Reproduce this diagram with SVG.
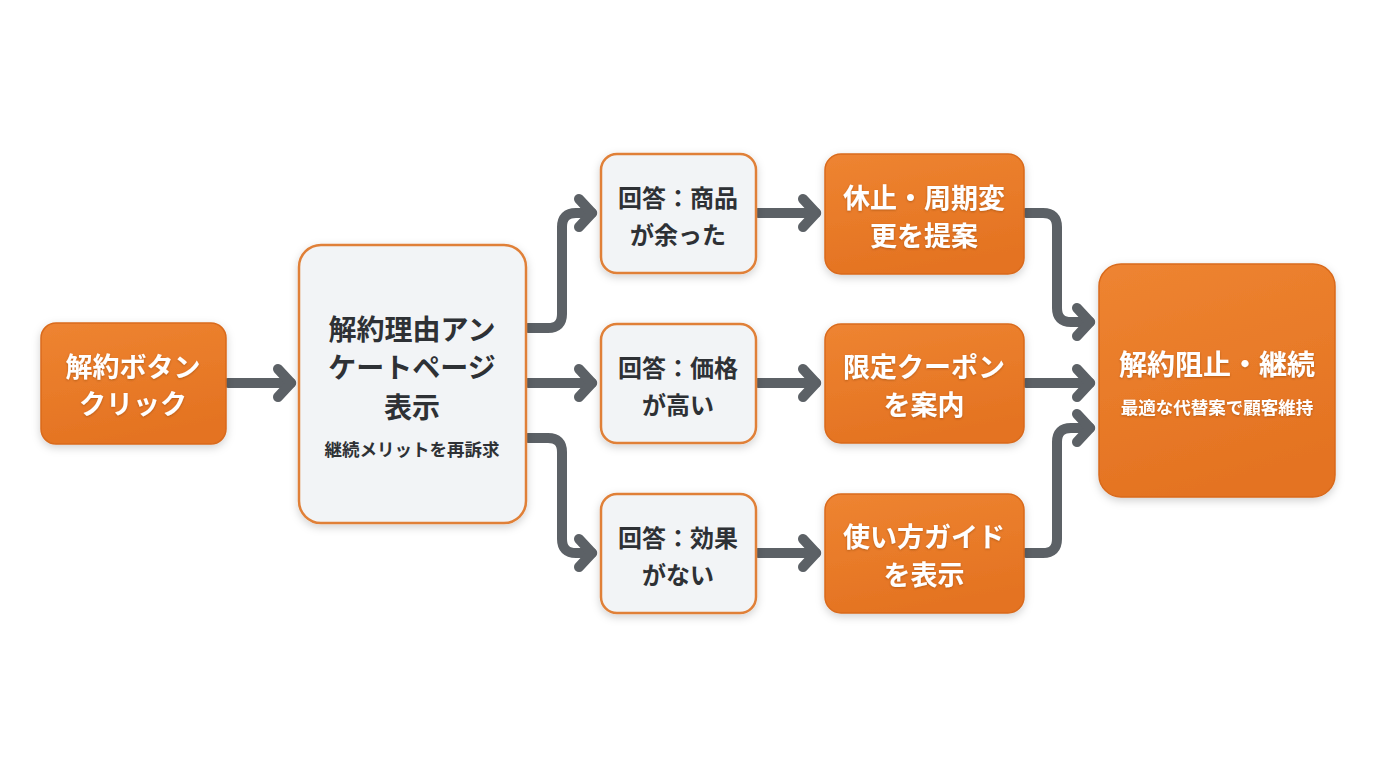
<svg xmlns="http://www.w3.org/2000/svg" width="1376" height="768" viewBox="0 0 1376 768">
<defs>
<linearGradient id="og" x1="0" y1="0" x2="0.3" y2="1">
<stop offset="0" stop-color="#EE8431"/>
<stop offset="1" stop-color="#E47322"/>
</linearGradient>
<filter id="sh" x="-20%" y="-20%" width="140%" height="150%">
<feDropShadow dx="0" dy="3" stdDeviation="4" flood-color="#000" flood-opacity="0.18"/>
</filter>
<filter id="ts" x="-10%" y="-20%" width="120%" height="150%">
<feDropShadow dx="0" dy="1" stdDeviation="1" flood-color="#7a3a0a" flood-opacity="0.45"/>
</filter>
<marker id="ah" markerUnits="userSpaceOnUse" markerWidth="40" markerHeight="40" viewBox="-30 -20 40 40" refX="0" refY="0" orient="auto">
<path d="M-13,-14 L0,0 L-13,14" fill="none" stroke="#5C6166" stroke-width="10" stroke-linecap="round" stroke-linejoin="round"/>
</marker>
</defs>
<style>
.or{fill:url(#og);stroke:#D96A1C;stroke-width:1.5;filter:url(#sh)}
.lt{fill:#F2F4F6;stroke:#E08038;stroke-width:2.5;filter:url(#sh)}
.wt{font-family:"Noto Sans CJK JP","Noto Sans",sans-serif;font-weight:700;fill:#FFFFFF;text-anchor:middle;filter:url(#ts)}
.dk{font-family:"Noto Sans CJK JP","Noto Sans",sans-serif;font-weight:700;fill:#2E3135;text-anchor:middle}
.cn{fill:none;stroke:#5C6166;stroke-width:10;stroke-linecap:round;stroke-linejoin:round}
</style>
<rect width="1376" height="768" fill="#FFFFFF"/>
<g id="connectors">
<path class="cn" d="M228,383 H291" marker-end="url(#ah)"/>
<path class="cn" d="M528,328 H548 Q562,328 562,314 V227 Q562,213 576,213 H592" marker-end="url(#ah)"/>
<path class="cn" d="M528,383 H592" marker-end="url(#ah)"/>
<path class="cn" d="M528,438 H548 Q562,438 562,452 V539 Q562,553 576,553 H592" marker-end="url(#ah)"/>
<path class="cn" d="M758,213 H816" marker-end="url(#ah)"/>
<path class="cn" d="M758,383 H816" marker-end="url(#ah)"/>
<path class="cn" d="M758,553 H816" marker-end="url(#ah)"/>
<path class="cn" d="M1026,213 H1043 Q1057,213 1057,227 V308 Q1057,322 1071,322 H1090" marker-end="url(#ah)"/>
<path class="cn" d="M1026,383 H1090" marker-end="url(#ah)"/>
<path class="cn" d="M1026,553 H1043 Q1057,553 1057,539 V442 Q1057,428 1071,428 H1090" marker-end="url(#ah)"/>
</g>
<g id="n1">
<rect class="or" x="41" y="323" width="185" height="121" rx="15"/>
<text class="wt" font-size="27" x="133" y="377">解約ボタン</text>
<text class="wt" font-size="27" x="133" y="414">クリック</text>
</g>
<g id="n2">
<rect class="lt" x="299" y="245" width="227" height="278" rx="22"/>
<text class="dk" font-size="28" x="412" y="340">解約理由アン</text>
<text class="dk" font-size="28" x="412" y="378">ケートページ</text>
<text class="dk" font-size="28" x="412" y="418">表示</text>
<text class="dk" font-size="17.5" x="412" y="456">継続メリットを再訴求</text>
</g>
<g id="q1">
<rect class="lt" x="601" y="154" width="155" height="119" rx="16"/>
<text class="dk" font-size="24" x="678" y="207">回答：商品</text>
<text class="dk" font-size="24" x="678" y="244">が余った</text>
</g>
<g id="q2">
<rect class="lt" x="601" y="324" width="155" height="119" rx="16"/>
<text class="dk" font-size="24" x="678" y="377">回答：価格</text>
<text class="dk" font-size="24" x="678" y="414">が高い</text>
</g>
<g id="q3">
<rect class="lt" x="601" y="494" width="155" height="119" rx="16"/>
<text class="dk" font-size="24" x="678" y="547">回答：効果</text>
<text class="dk" font-size="24" x="678" y="584">がない</text>
</g>
<g id="a1">
<rect class="or" x="825" y="154" width="199" height="120" rx="16"/>
<text class="wt" font-size="27" x="924" y="208">休止・周期変</text>
<text class="wt" font-size="27" x="924" y="246">更を提案</text>
</g>
<g id="a2">
<rect class="or" x="825" y="324" width="199" height="119" rx="16"/>
<text class="wt" font-size="27" x="924" y="377">限定クーポン</text>
<text class="wt" font-size="27" x="924" y="415">を案内</text>
</g>
<g id="a3">
<rect class="or" x="825" y="494" width="199" height="119" rx="16"/>
<text class="wt" font-size="27" x="924" y="547">使い方ガイド</text>
<text class="wt" font-size="27" x="924" y="585">を表示</text>
</g>
<g id="final">
<rect class="or" x="1099" y="264" width="236" height="233" rx="22"/>
<text class="wt" font-size="28" x="1217" y="375">解約阻止・継続</text>
<text class="wt" font-size="17.5" x="1217" y="414">最適な代替案で顧客維持</text>
</g>
</svg>
